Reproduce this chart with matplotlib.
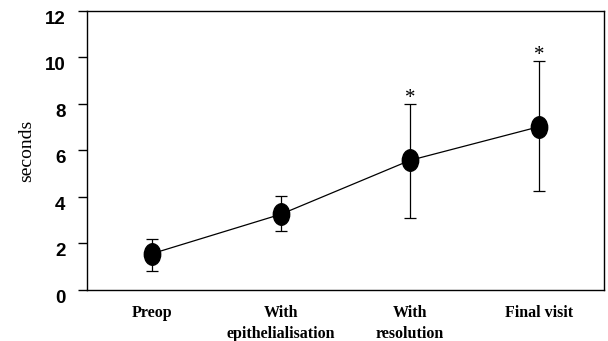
import matplotlib.pyplot as plt
import numpy as np
from matplotlib.path import Path
from matplotlib.transforms import Affine2D

visits = ["Preop", "With\nepithelialisation", "With\nresolution", "Final visit"]
mean_sec = [1.55, 3.25, 5.57, 7.02]
upper_sec = [2.2, 4.05, 8.0, 9.85]
lower_sec = [0.82, 2.55, 3.07, 4.24]
significant = [False, False, True, True]

x = np.arange(1, len(visits) + 1)
err = [np.array(mean_sec) - np.array(lower_sec), np.array(upper_sec) - np.array(mean_sec)]

# upright ellipse for the point markers
ellipse = Path.unit_circle().transformed(Affine2D().scale(0.76, 1.0))

fig = plt.figure(figsize=(6.08, 3.41), dpi=100)
ax = fig.add_axes([0.143, 0.150, 0.850, 0.818])

ax.errorbar(x, mean_sec, yerr=err, fmt="none", ecolor="black",
            elinewidth=0.9, capsize=4.3, capthick=0.9, zorder=2)
ax.plot(x, mean_sec, color="black", linewidth=0.9, marker=ellipse,
        markersize=15.5, markerfacecolor="black", markeredgecolor="black", zorder=3)

for xi, top, sig in zip(x, upper_sec, significant):
    if sig:
        ax.annotate("*", (xi, top), xytext=(0, -3), textcoords="offset points",
                    ha="center", va="bottom", fontsize=15, family="Liberation Serif")

ax.set_xlim(0.5, 4.5)
ax.set_ylim(0, 12)
ax.set_yticks(range(0, 13, 2))
ax.set_xticks(x)
ax.set_xticklabels(visits, family="Liberation Serif", fontweight="bold",
                   fontsize=11.5, linespacing=1.4, va="top")
ax.tick_params(axis="x", length=0, pad=11)
ax.tick_params(axis="y", direction="out", length=6.5, width=1, pad=9)
for lab in ax.get_yticklabels():
    lab.set_family("Liberation Sans")
    lab.set_fontweight("bold")
    lab.set_fontsize(13.5)
    lab.set_verticalalignment("top")

ax.set_ylabel("seconds", family="Liberation Serif", fontsize=14, labelpad=7)
for sp in ax.spines.values():
    sp.set_linewidth(1.0)

fig.savefig("out.png", dpi=100)
